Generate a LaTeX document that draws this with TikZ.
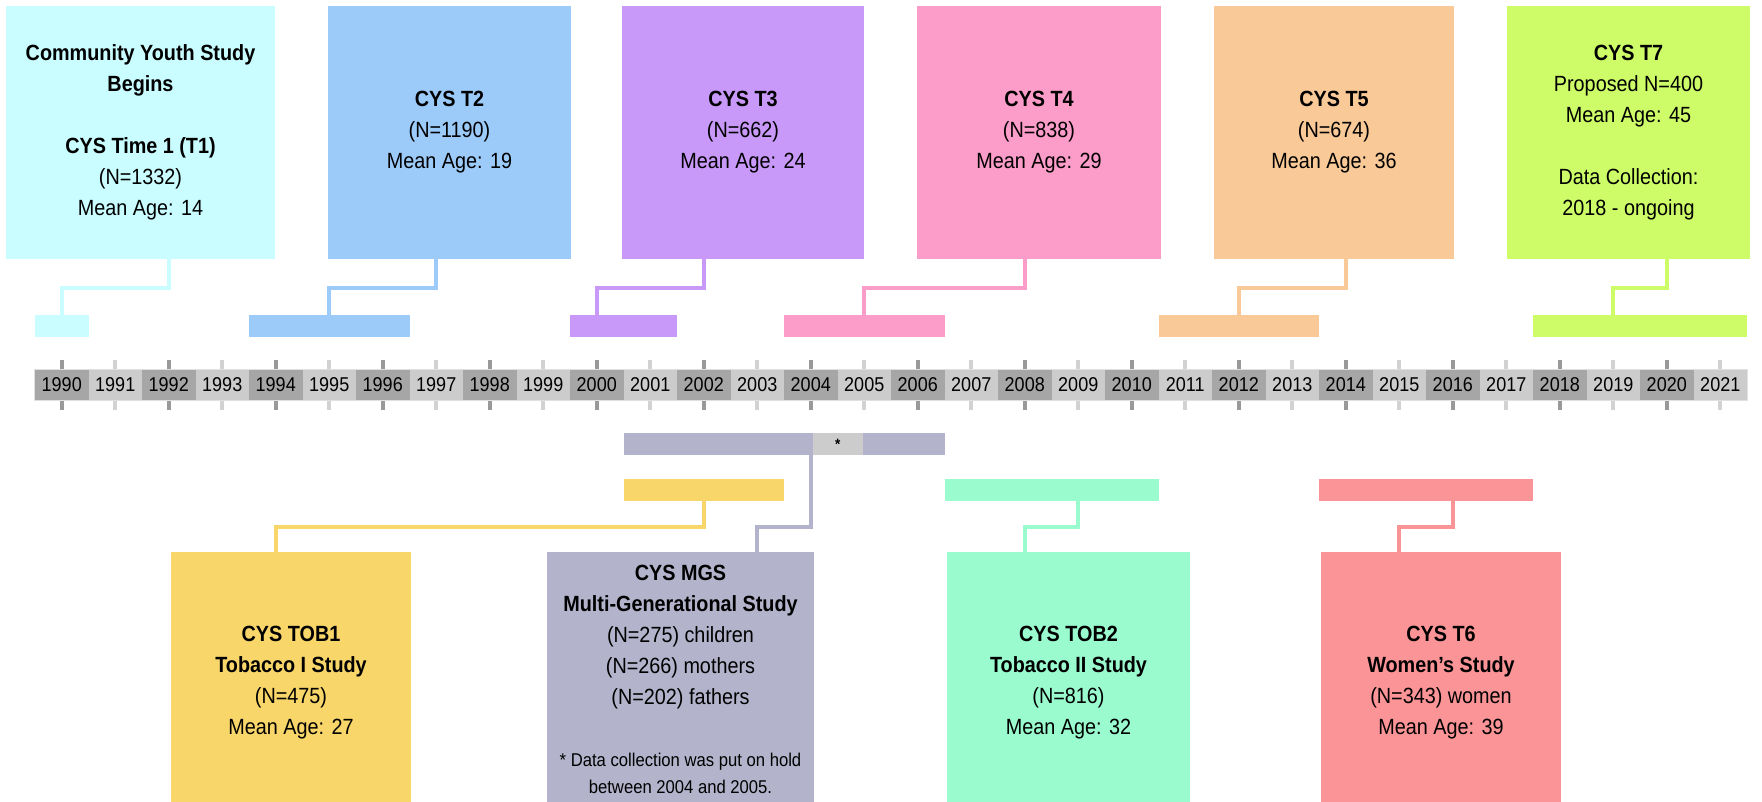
\documentclass[tikz,border=0pt]{standalone}
\usepackage{fontspec}
\setmainfont{Liberation Sans}[FakeStretch=0.9]
\usetikzlibrary{positioning}

\definecolor{cysone}{HTML}{C9FDFF}
\definecolor{cystwo}{HTML}{9CCBFA}
\definecolor{cysthree}{HTML}{C899F8}
\definecolor{cysfour}{HTML}{FC9CC8}
\definecolor{cysfive}{HTML}{F9C998}
\definecolor{cysseven}{HTML}{CDFC68}
\definecolor{tobone}{HTML}{F9D66A}
\definecolor{mgsgray}{HTML}{B3B4CB}
\definecolor{tobtwo}{HTML}{99FBCE}
\definecolor{cyssix}{HTML}{FB9497}
\definecolor{yeardark}{HTML}{A6A6A6}
\definecolor{yearlight}{HTML}{CCCCCC}
\definecolor{tickdark}{HTML}{999999}
\definecolor{ticklight}{HTML}{D2D2D2}

\begin{document}
\begin{tikzpicture}[x=1pt,y=-1pt,
        box/.style={rectangle,inner sep=0pt,align=center,font=\fontsize{22}{31}\selectfont},
        bar/.style={rectangle,inner sep=0pt,minimum height=22pt},
        link/.style={line width=3.8pt},
        yearcell/.style={rectangle,inner sep=0pt,minimum width=53.5pt,minimum height=30pt,font=\fontsize{20}{24}\selectfont},
        yeartick/.style={line width=4pt}]

        \useasboundingbox (0,0) rectangle (1762,802);

        % timeline
        \foreach \yr in {1990,1992,...,2020} {
            \node[yearcell,fill=yeardark] (y\yr) at ({61.75+(\yr-1990)*53.5},385) {\yr};
            \draw[yeartick,tickdark] (y\yr.north) -- ++(0,-10) (y\yr.south) -- ++(0,10);
        }
        \foreach \yr in {1991,1993,...,2021} {
            \node[yearcell,fill=yearlight] (y\yr) at ({61.75+(\yr-1990)*53.5},385) {\yr};
            \draw[yeartick,ticklight] (y\yr.north) -- ++(0,-10) (y\yr.south) -- ++(0,10);
        }
        \draw[white!88!black,line width=0.8pt] (y1990.north west) rectangle (y2021.south east);

        \coordinate (topknee) at (0,288);
        \coordinate (topbar) at (0,326);
        \coordinate (mgsbar) at (0,444);
        \coordinate (botbar) at (0,489.5);
        \coordinate (botknee) at (0,527);

        % waves above the line
        \node[box,fill=cysone,minimum width=269pt,minimum height=253pt] (t1) at (140.5,132.5)
            {\textbf{Community Youth Study}\\\textbf{Begins}\\[31pt]\textbf{CYS Time 1 (T1)}\\(N=1332)\\Mean Age: 14};
        \node[box,fill=cystwo,minimum width=243pt,minimum height=253pt] (t2) at (449.5,132.5)
            {\textbf{CYS T2}\\(N=1190)\\Mean Age: 19};
        \node[box,fill=cysthree,minimum width=242pt,minimum height=253pt] (t3) at (743,132.5)
            {\textbf{CYS T3}\\(N=662)\\Mean Age: 24};
        \node[box,fill=cysfour,minimum width=244pt,minimum height=253pt] (t4) at (1039,132.5)
            {\textbf{CYS T4}\\(N=838)\\Mean Age: 29};
        \node[box,fill=cysfive,minimum width=240pt,minimum height=253pt] (t5) at (1334,132.5)
            {\textbf{CYS T5}\\(N=674)\\Mean Age: 36};
        \node[box,fill=cysseven,minimum width=243pt,minimum height=253pt] (t7) at (1628.5,132.5)
            {\textbf{CYS T7}\\Proposed N=400\\Mean Age: 45\\[31pt]Data Collection:\\2018 - ongoing};

        \node[bar,fill=cysone,minimum width=53.5pt] (b1) at (y1990 |- topbar) {};
        \node[bar,fill=cystwo,minimum width=160.5pt] (b2) at (y1995 |- topbar) {};
        \node[bar,fill=cysthree,minimum width=107pt] (b3) at (y2000.east |- topbar) {};
        \node[bar,fill=cysfour,minimum width=160.5pt] (b4) at (y2005 |- topbar) {};
        \node[bar,fill=cysfive,minimum width=160.5pt] (b5) at (y2012 |- topbar) {};
        \node[bar,fill=cysseven,minimum width=214pt] (b7) at (y2019.east |- topbar) {};

        \draw[link,cysone] (t1.south -| y1992) -- (topknee -| y1992) -| (b1.north -| y1990);
        \draw[link,cystwo] (t2.south -| y1997) -- (topknee -| y1997) -| (b2.north -| y1995);
        \draw[link,cysthree] (t3.south -| y2002) -- (topknee -| y2002) -| (b3.north -| y2000);
        \draw[link,cysfour] (t4.south -| y2008) -- (topknee -| y2008) -| (b4.north -| y2005);
        \draw[link,cysfive] (t5.south -| y2014) -- (topknee -| y2014) -| (b5.north -| y2012);
        \draw[link,cysseven] (t7.south -| y2020) -- (topknee -| y2020) -| (b7.north -| y2019);

        % studies below the line
        \node[bar,fill=mgsgray,minimum width=321pt] (bm) at (y2003.east |- mgsbar) {};
        \node[bar,fill=yearlight,minimum width=50pt,font=\fontsize{15}{15}\selectfont\bfseries] (hold) at (y2004.east |- mgsbar) {*};
        \node[bar,fill=tobone,minimum width=160.5pt] (bt1) at (y2002 |- botbar) {};
        \node[bar,fill=tobtwo,minimum width=214pt] (bt2) at (y2008.east |- botbar) {};
        \node[bar,fill=cyssix,minimum width=214pt] (b6) at (y2015.east |- botbar) {};

        \node[box,fill=tobone,minimum width=240pt,minimum height=262pt] (tob1) at (291,683)
            {\textbf{CYS TOB1}\\\textbf{Tobacco I Study}\\(N=475)\\Mean Age: 27};
        \node[box,fill=mgsgray,minimum width=267pt,minimum height=262pt] (mgs) at (680.5,683) {};
        \node[box] (mgstext) at (680.5,637)
            {\textbf{CYS MGS}\\\textbf{Multi-Generational Study}\\(N=275) children\\(N=266) mothers\\(N=202) fathers};
        \node[box,font=\fontsize{18.5}{27}\selectfont] (mgsnote) at (680.5,773)
            {* Data collection was put on hold\\between 2004 and 2005.};
        \node[box,fill=tobtwo,minimum width=243pt,minimum height=262pt] (tob2) at (1068.5,683)
            {\textbf{CYS TOB2}\\\textbf{Tobacco II Study}\\(N=816)\\Mean Age: 32};
        \node[box,fill=cyssix,minimum width=240pt,minimum height=262pt] (t6) at (1441,683)
            {\textbf{CYS T6}\\\textbf{Women's Study}\\(N=343) women\\Mean Age: 39};

        \draw[link,tobone] (bt1.south -| y2002) -- (botknee -| y2002) -| (tob1.north -| y1994);
        \draw[link,mgsgray] (bm.south -| y2004) -- (botknee -| y2004) -| (mgs.north -| y2003);
        \draw[link,tobtwo] (bt2.south -| y2009) -- (botknee -| y2009) -| (tob2.north -| y2008);
        \draw[link,cyssix] (b6.south -| y2016) -- (botknee -| y2016) -| (t6.north -| y2015);

    \end{tikzpicture}
\end{document}
